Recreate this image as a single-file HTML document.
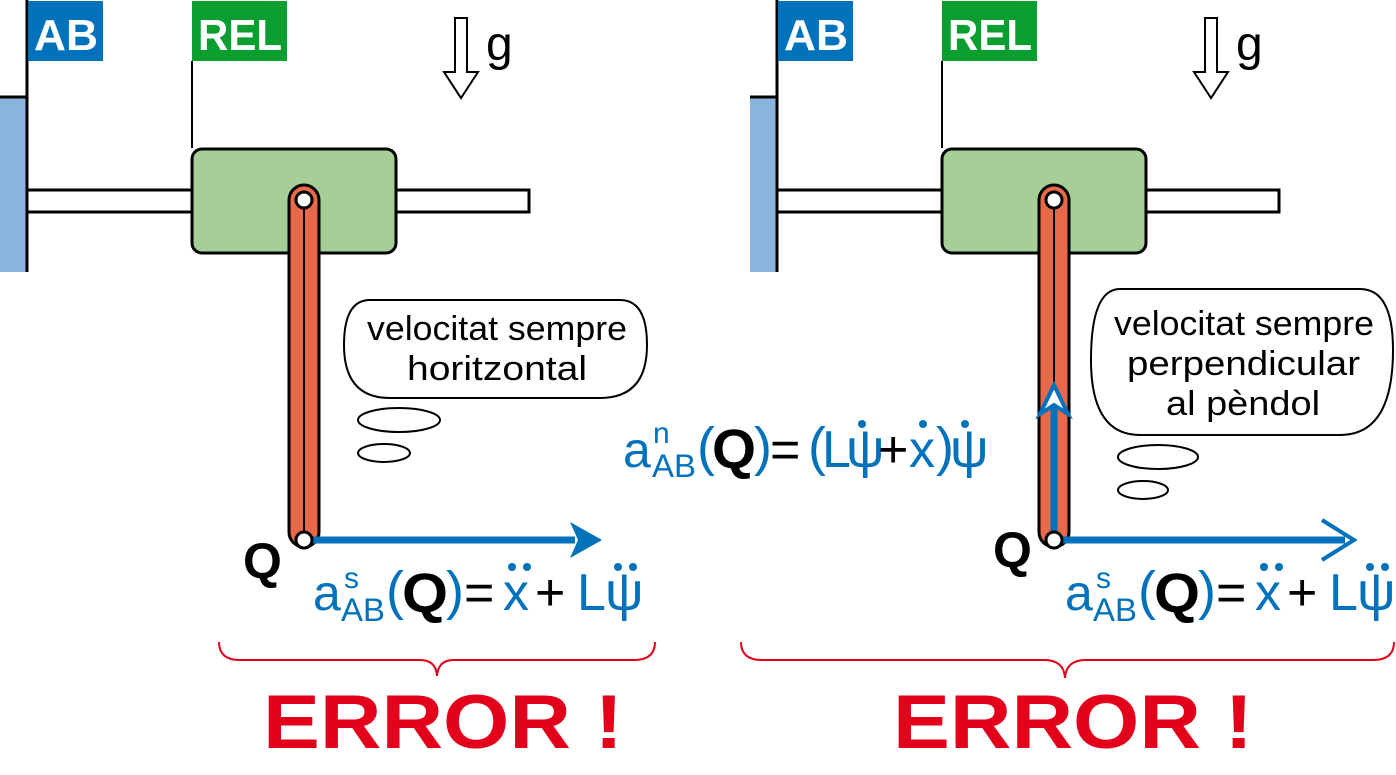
<!DOCTYPE html>
<html><head><meta charset="utf-8"><style>
html,body{margin:0;padding:0;background:#fff}
svg{display:block}
text{font-family:"Liberation Sans",sans-serif}
.bl{fill:#0072bc}
</style></head><body>
<svg width="1396" height="775" viewBox="0 0 1396 775" xmlns="http://www.w3.org/2000/svg">
<defs>
<g id="panel">
  <rect x="0" y="97" width="27" height="175" fill="#8ab4dc"/>
  <line x1="0" y1="97" x2="27" y2="97" stroke="#000" stroke-width="3"/>
  <line x1="27" y1="0" x2="27" y2="272" stroke="#000" stroke-width="3"/>
  <rect x="28" y="1" width="75" height="60" fill="#0072bc"/>
  <rect x="192" y="1" width="95" height="60" fill="#0a9e30"/>
  <line x1="192" y1="61" x2="192" y2="148" stroke="#000" stroke-width="2"/>
  <rect x="27" y="190" width="502" height="22" fill="#fff" stroke="#000" stroke-width="3"/>
  <rect x="192" y="149" width="204" height="104" rx="10" fill="#a5cf96" stroke="#000" stroke-width="3"/>
  <polygon points="455,18 467,18 467,72 478,72 461,98 444,72 455,72" fill="#fff" stroke="#000" stroke-width="2"/>
  <rect x="289" y="185" width="30" height="362" rx="15" fill="#e8694a" stroke="#000" stroke-width="3"/>
  <line x1="304" y1="200" x2="304" y2="540" stroke="#000" stroke-width="2"/>
  <circle cx="304" cy="200" r="8" fill="#fff" stroke="#000" stroke-width="3"/>
  <text x="486" y="60" font-size="48">g</text>
</g>
</defs>

<use href="#panel"/>
<use href="#panel" transform="translate(750,0)"/>

<path d="M219,642 Q219,660 240,660 L420,660 Q436,660 437,676 Q438,660 454,660 L634,660 Q655,660 655,642" fill="none" stroke="#e2001a" stroke-width="2"/>
<path d="M741,642 Q741,660 762,660 L1044,660 Q1064,660 1065,678 Q1066,660 1086,660 L1373,660 Q1394,660 1394,642" fill="none" stroke="#e2001a" stroke-width="2"/>

<!-- labels -->
<text x="34" y="50" font-size="44" font-weight="bold" fill="#fff" textLength="64" lengthAdjust="spacingAndGlyphs">AB</text>
<text x="198" y="50" font-size="44" font-weight="bold" fill="#fff" textLength="84" lengthAdjust="spacingAndGlyphs">REL</text>
<text x="784" y="50" font-size="44" font-weight="bold" fill="#fff" textLength="64" lengthAdjust="spacingAndGlyphs">AB</text>
<text x="948" y="50" font-size="44" font-weight="bold" fill="#fff" textLength="84" lengthAdjust="spacingAndGlyphs">REL</text>

<!-- left Q pin and arrow -->
<line x1="312" y1="540" x2="575" y2="540" stroke="#0072bc" stroke-width="7"/>
<polygon points="570,522 602,540 570,558 578,540" fill="#0072bc"/>
<circle cx="304" cy="540" r="8" fill="#fff" stroke="#000" stroke-width="3"/>
<text x="243" y="578" font-size="50" font-weight="bold">Q</text>

<!-- right arrows -->
<line x1="1062" y1="540" x2="1345" y2="540" stroke="#0072bc" stroke-width="7"/>
<polyline points="1322,520 1354,540 1322,560" fill="none" stroke="#0072bc" stroke-width="4"/>
<line x1="1054" y1="532" x2="1054" y2="400" stroke="#0072bc" stroke-width="7"/>
<polygon points="1054,385 1068,414 1054,405 1040,414" fill="#fff" stroke="#0072bc" stroke-width="4"/>
<circle cx="1054" cy="540" r="8" fill="#fff" stroke="#000" stroke-width="3"/>
<text x="993" y="567" font-size="50" font-weight="bold">Q</text>

<!-- bubbles -->
<path d="M370,300 L620,300 Q647,300 647,345 Q647,398 600,398 L390,398 Q344,398 344,345 Q344,300 370,300 Z" fill="#fff" stroke="#000" stroke-width="2"/>
<text x="367" y="340" font-size="34" textLength="260" lengthAdjust="spacingAndGlyphs">velocitat sempre</text>
<text x="407" y="380" font-size="34" textLength="180" lengthAdjust="spacingAndGlyphs">horitzontal</text>
<ellipse cx="399" cy="420" rx="41" ry="12" fill="#fff" stroke="#000" stroke-width="2"/>
<ellipse cx="384" cy="453" rx="26" ry="9" fill="#fff" stroke="#000" stroke-width="2"/>

<path d="M1120,289 L1360,289 Q1393,289 1393,350 Q1393,435 1340,435 L1140,435 Q1091,435 1091,360 Q1091,289 1120,289 Z" fill="#fff" stroke="#000" stroke-width="2"/>
<text x="1114" y="335" font-size="34" textLength="260" lengthAdjust="spacingAndGlyphs">velocitat sempre</text>
<text x="1127" y="375" font-size="34" textLength="233" lengthAdjust="spacingAndGlyphs">perpendicular</text>
<text x="1166" y="415" font-size="34" textLength="154" lengthAdjust="spacingAndGlyphs">al pèndol</text>
<ellipse cx="1158" cy="457" rx="40" ry="12" fill="#fff" stroke="#000" stroke-width="2"/>
<ellipse cx="1143" cy="490" rx="25" ry="9" fill="#fff" stroke="#000" stroke-width="2"/>

<!-- s formula left -->
<g id="fs">
<text x="313" y="610" font-size="50" class="bl">a</text>
<text x="344" y="588" font-size="30" class="bl">s</text>
<text x="341" y="621" font-size="32" class="bl" textLength="44" lengthAdjust="spacingAndGlyphs">AB</text>
<text x="386" y="609" font-size="54" class="bl">(</text>
<text x="402" y="612" font-size="56" font-weight="bold" textLength="46" lengthAdjust="spacingAndGlyphs">Q</text>
<text x="446" y="609" font-size="54" class="bl">)</text>
<text x="464" y="610" font-size="52">=</text>
<text x="503" y="610" font-size="52" class="bl">x</text>
<circle cx="512" cy="567" r="4" class="bl"/><circle cx="527" cy="567" r="4" class="bl"/>
<text x="535" y="610" font-size="52">+</text>
<text x="577" y="610" font-size="52" class="bl">L</text>
<text x="605" y="610" font-size="54" class="bl">ψ</text>
<circle cx="618" cy="567" r="4" class="bl"/><circle cx="633" cy="567" r="4" class="bl"/>
</g>
<use href="#fs" transform="translate(752,0)"/>

<!-- n formula -->
<text x="623" y="467" font-size="50" class="bl">a</text>
<text x="653" y="443" font-size="30" class="bl">n</text>
<text x="652" y="477" font-size="32" class="bl" textLength="44" lengthAdjust="spacingAndGlyphs">AB</text>
<text x="697" y="465" font-size="54" class="bl">(</text>
<text x="712" y="468" font-size="56" font-weight="bold" textLength="44" lengthAdjust="spacingAndGlyphs">Q</text>
<text x="754" y="465" font-size="54" class="bl">)</text>
<text x="770" y="467" font-size="52">=</text>
<text x="808" y="465" font-size="54" class="bl">(</text>
<text x="822" y="467" font-size="52" class="bl">L</text>
<text x="846" y="467" font-size="54" class="bl">ψ</text>
<circle cx="862" cy="424" r="4" class="bl"/>
<text x="878" y="467" font-size="52">+</text>
<text x="909" y="467" font-size="52" class="bl">x</text>
<circle cx="923" cy="424" r="4" class="bl"/>
<text x="936" y="465" font-size="54" class="bl">)</text>
<text x="950" y="467" font-size="54" class="bl">ψ</text>
<circle cx="965" cy="424" r="4" class="bl"/>

<!-- ERROR -->
<text x="263" y="748" font-size="76" font-weight="bold" fill="#e2001a" textLength="360" lengthAdjust="spacingAndGlyphs">ERROR !</text>
<text x="893" y="748" font-size="76" font-weight="bold" fill="#e2001a" textLength="360" lengthAdjust="spacingAndGlyphs">ERROR !</text>
</svg>
</body></html>
